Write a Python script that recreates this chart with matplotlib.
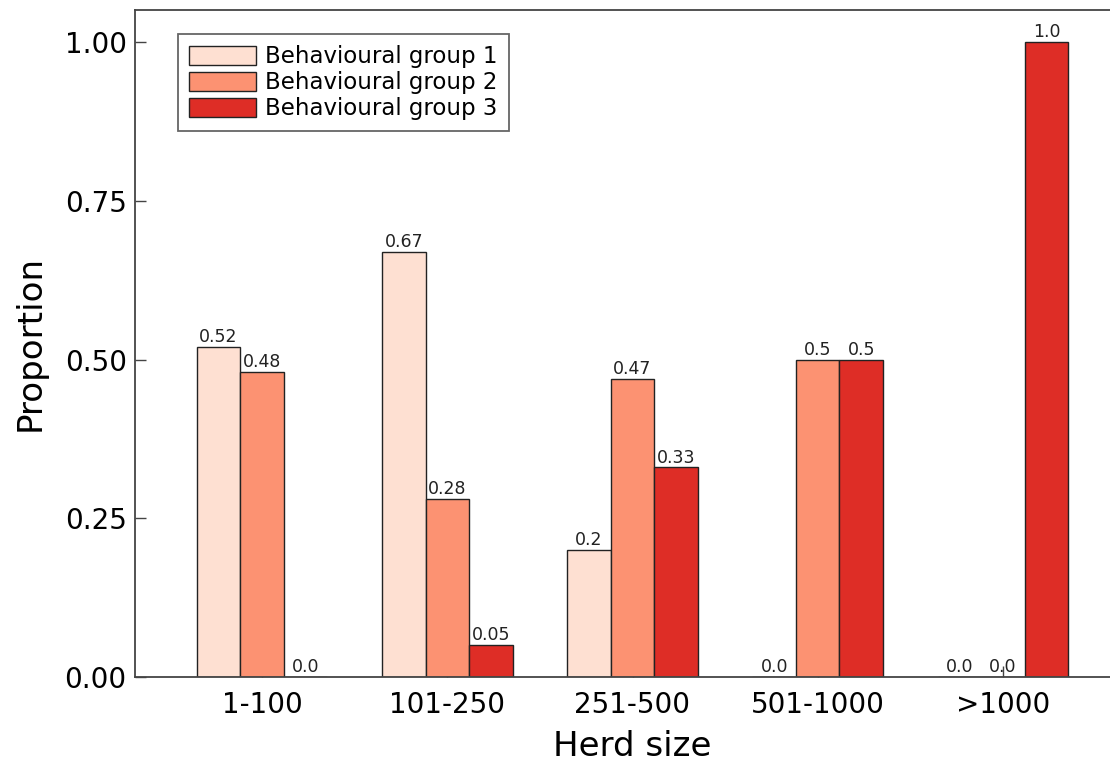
import matplotlib
matplotlib.use("Agg")
import matplotlib.pyplot as plt
import numpy as np

# herd size classes and proportions per behavioural group
herd_sizes = ["1-100", "101-250", "251-500", "501-1000", ">1000"]
group1 = [0.52, 0.67, 0.2, 0.0, 0.0]
group2 = [0.48, 0.28, 0.47, 0.5, 0.0]
group3 = [0.0, 0.05, 0.33, 0.5, 1.0]
group_names = ["Behavioural group 1", "Behavioural group 2", "Behavioural group 3"]
colors = ["#fee0d2", "#fc9272", "#de2d26"]

fig = plt.figure(figsize=(11.1, 7.62), dpi=100)
# axes runs a little past the right edge, as in the original
ax = fig.add_axes([135 / 1110, 85 / 762, 995 / 1110, 667 / 762])

x = np.arange(1, len(herd_sizes) + 1)
width = 0.235
offsets = [-width, 0, width]

for vals, off, col, name in zip([group1, group2, group3], offsets, colors, group_names):
    bars = ax.bar(x + off, vals, width, color=col, edgecolor="#222222",
                  linewidth=1.0, label=name)
    for b, v in zip(bars, vals):
        ax.annotate(str(v), (b.get_x() + b.get_width() / 2, v),
                    xytext=(0, 3.5), textcoords="offset points",
                    ha="center", va="baseline", fontsize=12.5, color="#222222")

ax.set_xlim(1 - 0.686, 5 + 0.686)
ax.set_ylim(0, 1.0504)
ax.set_xticks(x)
ax.set_xticklabels(herd_sizes)
ax.set_yticks([0, 0.25, 0.5, 0.75, 1.0])
ax.set_yticklabels(["0.00", "0.25", "0.50", "0.75", "1.00"])
ax.set_axisbelow(True)

ax.tick_params(direction="in", length=8, width=1.0, color="#444444",
               labelsize=20, pad=6)
ax.tick_params(axis="x", pad=10)

for side in ["left", "bottom", "top"]:
    ax.spines[side].set_color("#444444")
    ax.spines[side].set_linewidth(1.3)
ax.spines["right"].set_visible(False)

ax.set_xlabel("Herd size", fontsize=24.5, labelpad=8)
ax.set_ylabel("Proportion", fontsize=24.5, labelpad=13)

leg = ax.legend(loc="upper left", bbox_to_anchor=(0.0432, 0.964),
                borderaxespad=0, fontsize=16.5, fancybox=False,
                edgecolor="#666666", framealpha=1, handlelength=2.9,
                handleheight=0.9, handletextpad=0.4, labelspacing=0.12,
                borderpad=0.5)
leg.get_frame().set_linewidth(1.3)

fig.savefig("out.png", dpi=100)
